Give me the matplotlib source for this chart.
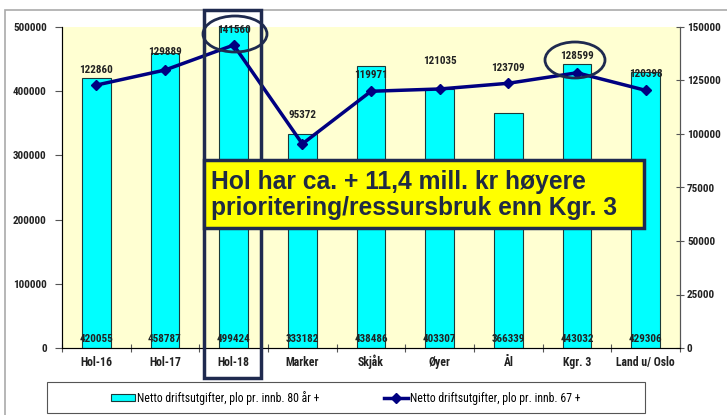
import matplotlib
matplotlib.use("Agg")
import matplotlib.pyplot as plt
from matplotlib.patches import Rectangle, Ellipse
from matplotlib import font_manager
import numpy as np

categories = ["Hol-16", "Hol-17", "Hol-18", "Marker", "Skjåk", "Øyer", "Ål", "Kgr. 3", "Land u/ Oslo"]
bar_values = [420055, 458787, 499424, 333182, 438486, 403307, 366339, 443032, 429306]
line_values = [122860, 129889, 141560, 95372, 119971, 121035, 123709, 128599, 120398]
bar_label = "Netto driftsutgifter, plo pr. innb. 80 år +"
line_label = "Netto driftsutgifter, plo pr. innb. 67 +"
note = "Hol har ca. + 11,4 mill. kr høyere\nprioritering/ressursbruk enn Kgr. 3"
left_ticks = [0, 100000, 200000, 300000, 400000, 500000]
right_ticks = [0, 25000, 50000, 75000, 100000, 125000, 150000]
# label offsets (points) above line markers
label_offsets = [11, 13, 11, 21, 12, 20, 11, 12, 12]

available = {f.name for f in font_manager.fontManager.ttflist}
narrow = None
for cand in ["Liberation Sans Narrow", "DejaVu Sans Condensed", "Roboto Condensed", "Open Sans Condensed"]:
    if cand in available:
        narrow = cand
        break
if narrow is None:
    narrow = "Liberation Sans"
small_fs = 8 if narrow != "Liberation Sans" else 7

W, H = 727, 415
fig = plt.figure(figsize=(W / 100, H / 100), dpi=100)
plt.rcParams['font.family'] = [narrow, "DejaVu Sans"]

def fx(px):
    return px / W

def fy(py):
    return 1 - py / H

navy = "#000080"
txt = "#222222"
ax = fig.add_axes([fx(62), fy(348), fx(680) - fx(62), fy(27) - fy(348)])
ax.set_facecolor("#FFFFD2")
x = np.arange(len(categories))
ax.bar(x, bar_values, width=0.42, color="#00FFFF", edgecolor="#1a3a3a", linewidth=0.8, zorder=2,
       label=bar_label)
ax.set_xlim(-0.5, len(categories) - 0.5)
ax.set_ylim(0, 500000)
ax.set_yticks(left_ticks)
ax.set_yticklabels([str(v) for v in left_ticks], fontsize=small_fs, fontweight="bold", color=txt)
ax.set_xticks(x)
ax.set_xticklabels(categories, fontsize=small_fs + 0.5, fontweight="bold", color=txt, va="baseline")
ax.set_xticks(np.arange(-0.5, len(categories)), minor=True)
ax.tick_params(axis="x", which="major", length=0, pad=13)
ax.tick_params(axis="x", which="minor", length=6, width=0.8, direction="inout", color="#555555")
ax.tick_params(axis="y", length=5, width=0.8, color="#555555", pad=6)
ax.spines["top"].set_visible(False)
for s in ["left", "bottom", "right"]:
    ax.spines[s].set_color("#555555")
    ax.spines[s].set_linewidth(0.8)

for xi, v in zip(x, bar_values):
    ax.text(xi, 6000, str(v), ha="center", va="bottom", fontsize=small_fs, fontweight="bold",
            color=txt, zorder=5)

ax2 = ax.twinx()
ax2.plot(x, line_values, color=navy, linewidth=2.5, marker="D", markersize=5.5, zorder=4,
         label=line_label)
ax2.set_ylim(0, 150000)
ax2.set_yticks(right_ticks)
ax2.set_yticklabels([str(v) for v in right_ticks], fontsize=small_fs, fontweight="bold", color=txt)
ax2.tick_params(axis="y", length=6, width=0.8, color="#555555", pad=2, direction="inout")
ax2.spines["top"].set_visible(False)
ax2.spines["right"].set_color("#555555")
ax2.spines["right"].set_linewidth(0.8)
for xi, v, off in zip(x, line_values, label_offsets):
    ax2.annotate(str(v), (xi, v), xytext=(0, off), textcoords="offset points", ha="center",
                 va="center", fontsize=small_fs, fontweight="bold", color=txt, zorder=6)

# Highlight rectangle around Hol-18 column
fig.patches.append(Rectangle((fx(204), fy(378)), fx(261) - fx(204), fy(10) - fy(378),
                             transform=fig.transFigure, fill=False, edgecolor="#1F2A4F",
                             linewidth=2.5, zorder=10))
# Ellipses
fig.patches.append(Ellipse((fx(235), fy(34)), fx(64), 36 / H, transform=fig.transFigure,
                           fill=False, edgecolor="#1F2A4F", linewidth=2, zorder=10))
fig.patches.append(Ellipse((fx(575), fy(60)), fx(60), 36 / H, transform=fig.transFigure,
                           fill=False, edgecolor="#1F2A4F", linewidth=2, zorder=10))

# Yellow note box
fig.patches.append(Rectangle((fx(204), fy(228)), fx(644) - fx(204), fy(160) - fy(228),
                             transform=fig.transFigure, facecolor="#FFFF00", edgecolor="#1F2A4F",
                             linewidth=2.5, zorder=11))
fig.text(fx(211), fy(195), note, ha="left", va="center", fontsize=17.7, fontweight="bold",
         color="#1F2A44", family=["Liberation Sans", "DejaVu Sans"], linespacing=1.1, zorder=12)

# Outer frame
fig.patches.append(Rectangle((fx(5), fy(420)), fx(730) - fx(5), fy(10) - fy(420),
                             transform=fig.transFigure, fill=False, edgecolor="#AAAAAA",
                             linewidth=1.2, zorder=1))
# Legend box
fig.patches.append(Rectangle((fx(47), fy(413)), fx(645) - fx(47), fy(382) - fy(413),
                             transform=fig.transFigure, fill=False, edgecolor="#555555",
                             linewidth=0.8, zorder=1))
h1, l1 = ax.get_legend_handles_labels()
h2, l2 = ax2.get_legend_handles_labels()
leg = fig.legend(h1 + h2, l1 + l2, loc="center", bbox_to_anchor=(fx(346), fy(398)), ncol=2,
                 frameon=False, columnspacing=5.5, handlelength=2.0, handleheight=0.5,
                 handletextpad=0.2, prop={"size": small_fs + 0.5})

fig.savefig("out.png", dpi=100)
